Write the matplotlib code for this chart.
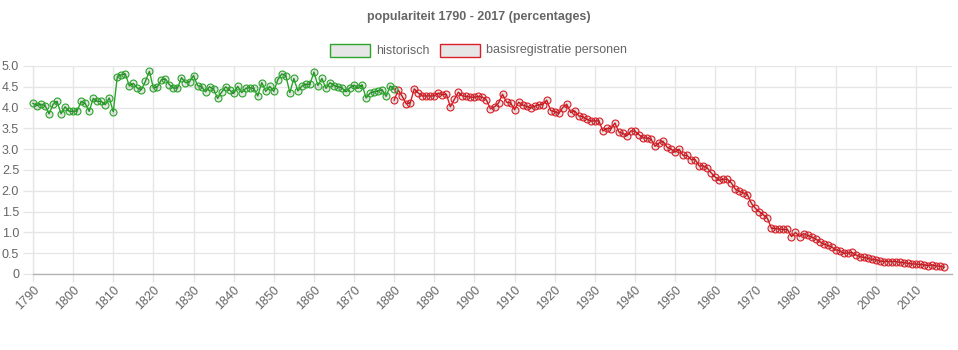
import matplotlib
matplotlib.use("Agg")
import matplotlib.pyplot as plt
from matplotlib.patches import Rectangle
import numpy as np

plt.rcParams['font.family'] = ['Liberation Sans', 'DejaVu Sans']

# Yearly popularity, historical source (1790-1880)
hist_years = list(range(1790, 1881))
hist_values = [
    4.10, 4.05, 4.08, 4.05, 3.85, 4.08, 4.15, 3.85, 4.02, 3.91,
    3.91, 3.92, 4.15, 4.10, 3.91, 4.22, 4.15, 4.15, 4.07, 4.23,
    3.90, 4.74, 4.79, 4.81, 4.52, 4.58, 4.47, 4.43, 4.63, 4.87,
    4.47, 4.50, 4.67, 4.69, 4.55, 4.47, 4.47, 4.72, 4.60, 4.62,
    4.77, 4.53, 4.50, 4.38, 4.50, 4.44, 4.22, 4.37, 4.50, 4.42,
    4.34, 4.51, 4.36, 4.46, 4.48, 4.46, 4.28, 4.60, 4.39, 4.51,
    4.39, 4.67, 4.81, 4.77, 4.36, 4.70, 4.40, 4.52, 4.56, 4.56,
    4.85, 4.53, 4.70, 4.46, 4.60, 4.53, 4.50, 4.47, 4.38, 4.48,
    4.54, 4.46, 4.55, 4.23, 4.35, 4.38, 4.40, 4.43, 4.27, 4.52,
    4.44,
]

# Yearly popularity, population register (1880-2017)
brp_years = list(range(1880, 2018))
brp_values = [
    4.18, 4.42, 4.27, 4.09, 4.11, 4.45, 4.35, 4.28, 4.28, 4.28,
    4.28, 4.35, 4.31, 4.32, 4.02, 4.20, 4.37, 4.28, 4.27, 4.25,
    4.25, 4.27, 4.25, 4.18, 3.97, 4.02, 4.11, 4.32, 4.13, 4.11,
    3.95, 4.13, 4.06, 4.03, 3.99, 4.03, 4.07, 4.07, 4.18, 3.93,
    3.90, 3.86, 4.00, 4.08, 3.88, 3.92, 3.80, 3.78, 3.72, 3.68,
    3.68, 3.68, 3.44, 3.50, 3.49, 3.63, 3.41, 3.38, 3.32, 3.44,
    3.43, 3.35, 3.27, 3.27, 3.24, 3.07, 3.15, 3.19, 3.05, 3.00,
    2.93, 3.00, 2.85, 2.85, 2.75, 2.75, 2.60, 2.60, 2.55, 2.43,
    2.33, 2.25, 2.28, 2.28, 2.19, 2.04, 1.99, 1.95, 1.91, 1.70,
    1.58, 1.50, 1.42, 1.34, 1.10, 1.09, 1.08, 1.07, 1.07, 0.90,
    1.00, 0.90, 0.97, 0.93, 0.89, 0.84, 0.78, 0.72, 0.69, 0.65,
    0.58, 0.56, 0.50, 0.50, 0.52, 0.46, 0.42, 0.40, 0.38, 0.35,
    0.34, 0.31, 0.30, 0.30, 0.30, 0.30, 0.28, 0.27, 0.26, 0.24,
    0.24, 0.23, 0.22, 0.20, 0.22, 0.19, 0.19, 0.16,
]

x_ticks = list(range(1790, 2011, 10))
y_ticks = [0, 0.5, 1.0, 1.5, 2.0, 2.5, 3.0, 3.5, 4.0, 4.5, 5.0]
y_labels = ["0", "0.5", "1.0", "1.5", "2.0", "2.5", "3.0", "3.5", "4.0", "4.5", "5.0"]

title = "populariteit 1790 - 2017 (percentages)"
label_hist = "historisch"
label_brp = "basisregistratie personen"

GREEN = "#2aa52a"
RED = "#dc1e26"
GRID = "#e6e6e6"
TXT = "#666666"
FILL = (0, 0, 0, 0.1)

W, H = 958, 350
fig = plt.figure(figsize=(W / 100, H / 100), dpi=100)
ax = fig.add_axes([33 / W, (H - 274) / H, (952 - 33) / W, (274 - 66) / H])

ax.plot(brp_years, brp_values, color=RED, lw=1.0, marker="o", ms=5.0,
        mfc=FILL, mec=RED, mew=0.8, zorder=3, clip_on=False)
ax.plot(hist_years, hist_values, color=GREEN, lw=1.0, marker="o", ms=5.0,
        mfc=FILL, mec=GREEN, mew=0.8, zorder=4, clip_on=False)

ax.set_xlim(1790, 2019)
ax.set_ylim(0, 5.0)
ax.set_xticks(x_ticks)
ax.set_xticklabels([str(t) for t in x_ticks])
ax.set_yticks(y_ticks)
ax.set_yticklabels(y_labels)

ax.grid(True, color=GRID, lw=1.0, zorder=0)
ax.set_axisbelow(True)
for s in ("top", "right"):
    ax.spines[s].set_visible(False)
ax.spines["left"].set_color(GRID)
ax.spines["bottom"].set_color("#b3b3b3")
ax.spines["left"].set_linewidth(1.0)
ax.spines["bottom"].set_linewidth(1.0)

ax.tick_params(axis="y", length=7, width=1.0, color=GRID, pad=3,
               labelsize=9, labelcolor=TXT)
ax.tick_params(axis="x", length=6, width=1.0, color=GRID, pad=1,
               labelsize=9, labelcolor=TXT)
for lbl in ax.get_xticklabels():
    lbl.set_rotation(45)
    lbl.set_ha("right")
    lbl.set_va("top")
    lbl.set_rotation_mode("anchor")

fig.text(0.5, 1 - 17 / H, title, ha="center", va="center",
         fontsize=9, fontweight="bold", color=TXT)

# Legend boxes and labels
def legend_item(x0, color, text):
    fig.patches.append(Rectangle((x0 / W, 1 - 57 / H), 40 / W, 13 / H,
                                 transform=fig.transFigure, facecolor="#e6e6e6",
                                 edgecolor=color, lw=1.0))
    fig.text((x0 + 46) / W, 1 - 50.5 / H, text, ha="left", va="center",
             fontsize=9, color=TXT)

legend_item(330, GREEN, label_hist)
legend_item(440, RED, label_brp)

fig.savefig("out.png", dpi=100)
